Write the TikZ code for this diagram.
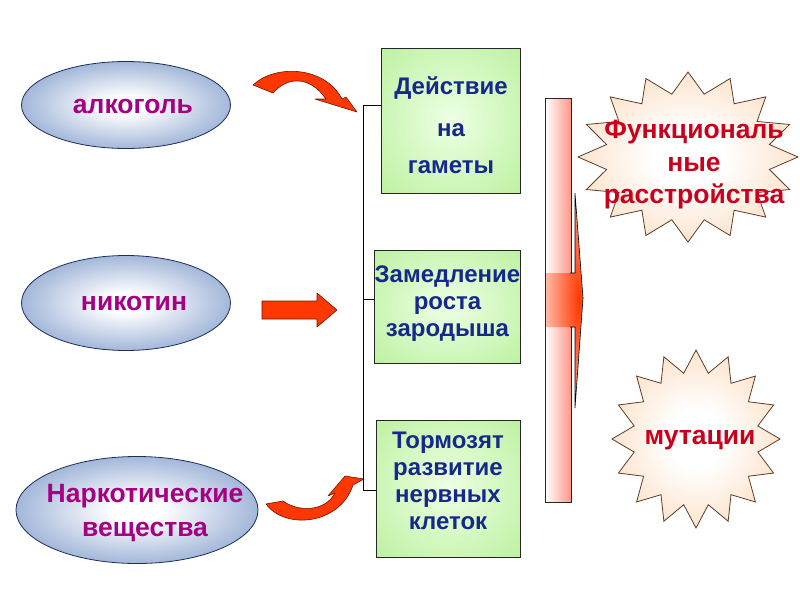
\documentclass[tikz,border=0pt]{standalone}
\usepackage{fontspec}
\setmainfont{Liberation Sans}
\usetikzlibrary{shapes.geometric}

\definecolor{ovalblue}{RGB}{66,108,178}
\definecolor{ovaledge}{RGB}{30,45,90}
\definecolor{ovaltext}{RGB}{165,0,130}
\definecolor{boxgreen}{RGB}{168,236,134}
\definecolor{boxlight}{RGB}{238,255,228}
\definecolor{boxtext}{RGB}{22,40,140}
\definecolor{burstpeach}{RGB}{250,192,140}
\definecolor{burstedge}{RGB}{90,60,40}
\definecolor{bursttext}{RGB}{200,0,30}
\definecolor{barpink}{RGB}{255,150,135}
\definecolor{arrowred}{RGB}{255,55,0}
\definecolor{arrowedge}{RGB}{110,20,0}

\pgfdeclareradialshading{ovalglow}{\pgfpoint{0bp}{0bp}}{color(0bp)=(white); color(5bp)=(white); color(46bp)=(ovalblue); color(50bp)=(ovalblue)}
\pgfdeclareradialshading{boxglow}{\pgfpoint{0bp}{0bp}}{color(0bp)=(boxlight); color(50bp)=(boxgreen)}
\pgfdeclareradialshading{burstglow}{\pgfpoint{0bp}{0bp}}{color(0bp)=(white); color(8bp)=(white); color(48bp)=(burstpeach); color(50bp)=(burstpeach)}
\pgfdeclareradialshading{barglow}{\pgfpoint{20bp}{0bp}}{color(0bp)=(arrowred); color(50bp)=(white)}

\newcommand\bigfont{\fontsize{24}{27}\selectfont\bfseries}
\newcommand\hugefont{\fontsize{26.5}{32.5}\selectfont\bfseries}
\newcommand\panellines[2]{\raisebox{#1}[\height][\depth]{\begin{tabular}{@{}c@{}}#2\end{tabular}}}

\begin{document}
\begin{tikzpicture}[x=1pt,y=-1pt,
  oval/.style={ellipse,draw=ovaledge,line width=0.8pt,shading=ovalglow,inner sep=0pt},
  ovaltxt/.style={text=ovaltext,font=\hugefont,align=center,inner sep=0pt},
  panel/.style={rectangle,draw=black!85,line width=0.8pt,shading=boxglow,
    text=boxtext,font=\bigfont,inner sep=0pt},
  burst/.style={draw=burstedge,line width=0.8pt,shading=burstglow},
  bursttxt/.style={text=bursttext,font=\hugefont,align=center,inner sep=0pt},
  redarrow/.style={fill=arrowred,draw=arrowedge,line width=0.6pt,line join=round}]
\useasboundingbox (0,0) rectangle (800,600);

% causes
\node[oval,minimum width=209pt,minimum height=87pt] (alc) at (126,105) {};
\node[oval,minimum width=209pt,minimum height=95pt] (nic) at (126,303) {};
\node[oval,minimum width=242pt,minimum height=107pt] (drug) at (137,510) {};
\node[ovaltxt] (alct) at (133,106) {алкоголь};
\node[ovaltxt] (nict) at (134,303) {никотин};
\node[ovaltxt] (drugt) at (145,513) {Наркотические\\[1.5pt]вещества};

% red arrows
\path[redarrow] (253,85) .. controls (275,64) and (325,66) .. (342,99) -- (346,97)
  -- (357,112) -- (315,99) -- (326,99) .. controls (310,76) and (288,76) .. (273,93) -- cycle;
\path[redarrow] (262,301) -- (317,301) -- (317,293) -- (337,310) -- (317,327)
  -- (317,319) -- (262,319) -- cycle;
\path[redarrow] (283,501) -- (266,504) .. controls (285,530) and (340,525) .. (353,485)
  -- (364,479) -- (345,476) -- (328,496) -- (335,493) .. controls (325,512) and (298,512) .. (283,501) -- cycle;

% effects
\node[panel,minimum width=139pt,minimum height=145pt] (gam) at (451,120.5)
  {\panellines{-8pt}{Действие\\[15pt]на\\[10pt]гаметы}};
\node[panel,minimum width=145pt,minimum height=113pt] (grow) at (447.5,306.5)
  {\panellines{2.5pt}{Замедление\\роста\\зародыша}};
\node[panel,minimum width=144pt,minimum height=137pt] (nerv) at (448,488.5)
  {\panellines{5pt}{Тормозят\\развитие\\нервных\\клеток}};

\coordinate (jtop) at (363,105);
\coordinate (jmid) at (363,299);
\coordinate (jbot) at (363,490);
\draw[line width=0.6pt] (jtop) -- (jbot);
\draw[line width=0.6pt] (jtop) -- (jtop -| gam.west);
\draw[line width=0.6pt] (jmid) -- (jmid -| grow.west);
\draw[line width=0.6pt] (jbot) -- (jbot -| nerv.west);

% bar with arrow
\node[draw=black!85,line width=0.8pt,left color=white,right color=barpink,
  minimum width=26pt,minimum height=404pt,inner sep=0pt] (bar) at (558,300) {};
\path[shading=barglow] (546,273) -- (575,273) -- (575,193) -- (583,298) -- (575,408)
  -- (575,327) -- (546,327) -- cycle;
\draw[line width=0.6pt] (570,273) -- (575,273) -- (575,193) -- (583,298) -- (575,408)
  -- (575,327) -- (570,327);

% results
\path[burst] plot[samples at={0,11.25,...,360}]
  ({688+(110-27*mod(round(\x/11.25),2))*cos(\x)},{157+(85-21*mod(round(\x/11.25),2))*sin(\x)}) -- cycle;
\path[burst] plot[samples at={0,11.25,...,360}]
  ({696+(84-21*mod(round(\x/11.25),2))*cos(\x)},{439+(89-22*mod(round(\x/11.25),2))*sin(\x)}) -- cycle;
\node[bursttxt] (func) at (694,165) {Функциональ\\ные\\расстройства};
\node[bursttxt] (mut) at (700,440) {мутации};

\end{tikzpicture}
\end{document}
